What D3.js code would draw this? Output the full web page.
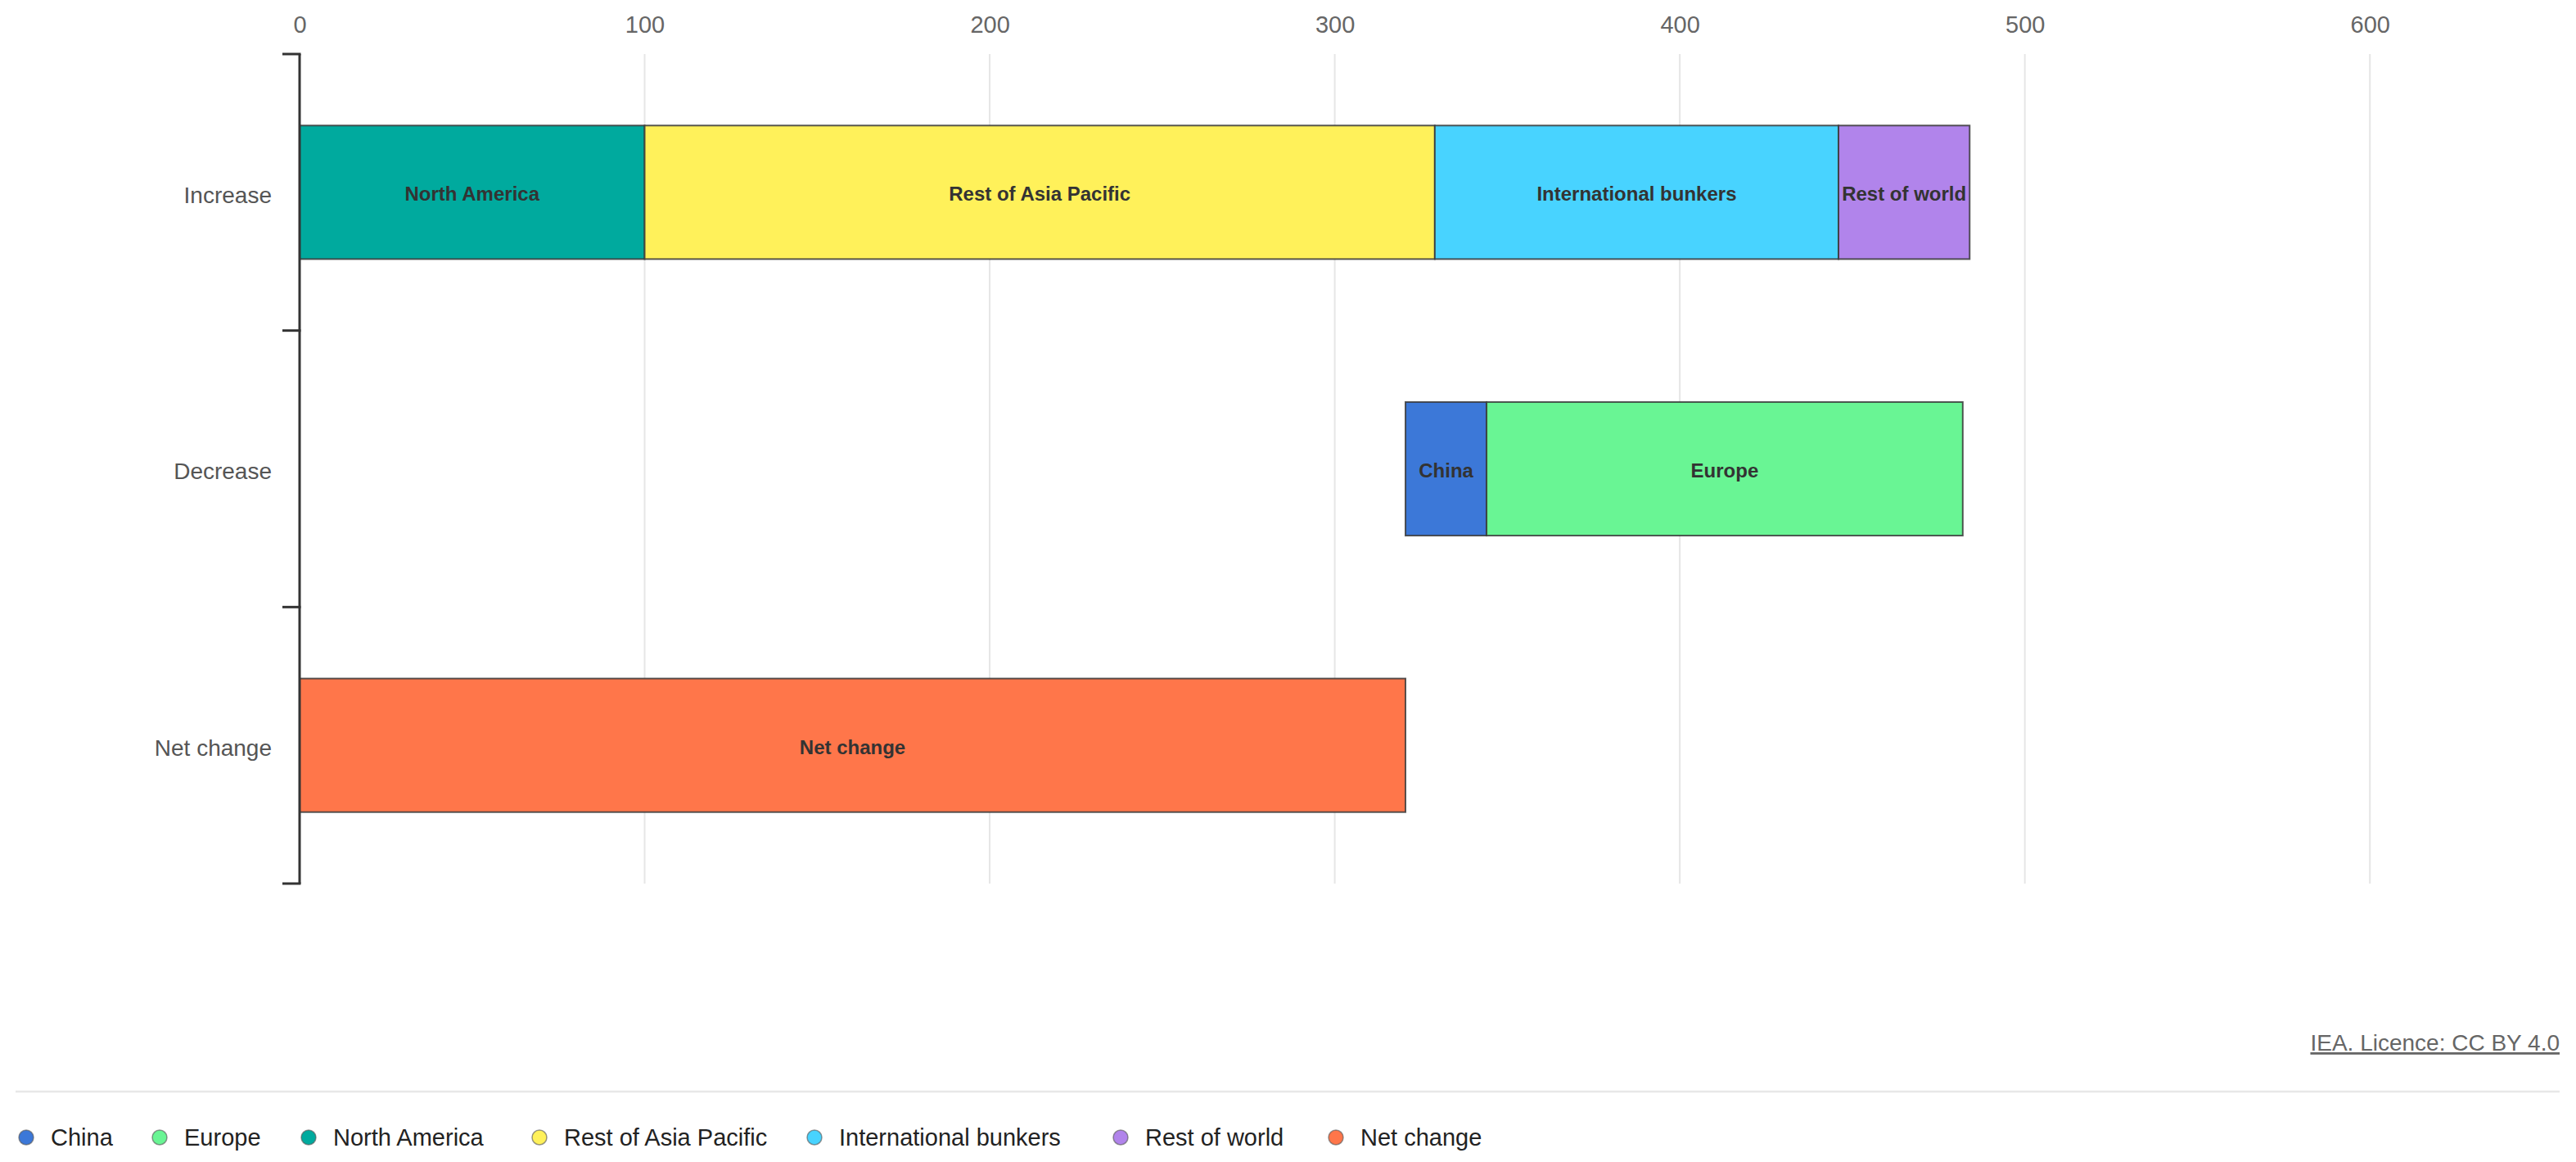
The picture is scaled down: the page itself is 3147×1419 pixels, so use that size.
<!DOCTYPE html>
<html>
<head>
<meta charset="utf-8">
<script src="https://cdn.jsdelivr.net/npm/d3@7"></script>
<style>
  html, body { margin: 0; padding: 0; background: #ffffff; }
  svg { display: block; }
</style>
</head>
<body>
<svg id="chart" width="3147" height="1419"></svg>
<script>
// ---- Data ----
const categories = ["Increase", "Decrease", "Net change"];
const increaseRegions = ["North America", "Rest of Asia Pacific", "International bunkers", "Rest of world"];
const increaseValues = [100, 229, 117, 38];
const decreaseRegions = ["China", "Europe"];
const decreaseValues = [23.5, 138];
const netLabels = ["Net change"];
const netValues = [320.5];
const xTicks = [0, 100, 200, 300, 400, 500, 600];
const legendSeries = ["China", "Europe", "North America", "Rest of Asia Pacific", "International bunkers", "Rest of world", "Net change"];
const seriesColors = ["#3c78d8", "#69f594", "#00aa9e", "#fff15a", "#48d3ff", "#b184eb", "#ff764a"];

(function () {
// ---- Layout ----
const mLeft = 366, mRight = 3106, mTop = 66, mBottom = 1079;
const legendX = [32, 195, 377, 659, 995, 1369, 1632]; // legend marker positions (layout)
const svg = d3.select("#chart");
const FONT = "'Liberation Sans', Arial, sans-serif";

const color = d3.scaleOrdinal().domain(legendSeries).range(seriesColors);
const x = d3.scaleLinear().domain([0, 650]).range([mLeft, mRight]);
const y = d3.scaleBand().domain(categories).range([mTop, mBottom]).paddingInner(0.517).paddingOuter(0.2585);

function stack(names, vals, start) {
  let acc = start;
  return names.map((n, i) => {
    const s = { name: n, x0: acc, x1: acc + vals[i] };
    acc += vals[i];
    return s;
  });
}
const rows = [
  { cat: "Increase", segs: stack(increaseRegions, increaseValues, 0) },
  { cat: "Decrease", segs: stack(decreaseRegions, decreaseValues, netValues[0]) },
  { cat: "Net change", segs: stack(netLabels, netValues, 0) }
];

// gridlines
svg.append("g").selectAll("line").data(xTicks.filter(d => d !== 0)).join("line")
  .attr("x1", d => x(d)).attr("x2", d => x(d))
  .attr("y1", mTop).attr("y2", mBottom)
  .attr("stroke", "#e6e6e6").attr("stroke-width", 2);

// top axis labels
const xAxis = d3.axisTop(x).tickValues(xTicks).tickSize(0).tickPadding(0);
const gx = svg.append("g").attr("transform", `translate(0,${mTop - 26})`).call(xAxis);
gx.select(".domain").remove();
gx.selectAll("text").attr("font-family", FONT).attr("font-size", 29).attr("fill", "#666").attr("dy", 0);

// bars
const barG = svg.append("g");
rows.forEach(r => {
  const g = barG.append("g");
  g.selectAll("rect").data(r.segs).join("rect")
    .attr("x", d => x(d.x0))
    .attr("y", y(r.cat))
    .attr("width", d => x(d.x1) - x(d.x0))
    .attr("height", y.bandwidth())
    .attr("fill", d => color(d.name))
    .attr("stroke", "#3a3a3a").attr("stroke-opacity", 0.85).attr("stroke-width", 2);
  g.selectAll("text").data(r.segs).join("text")
    .attr("x", d => (x(d.x0) + x(d.x1)) / 2)
    .attr("y", y(r.cat) + y.bandwidth() / 2 + 2)
    .attr("dy", "0.35em")
    .attr("text-anchor", "middle")
    .attr("font-family", FONT).attr("font-weight", "bold").attr("font-size", 24)
    .attr("fill", "#333")
    .text(d => d.name);
});

// left axis (category)
const axG = svg.append("g");
axG.append("line").attr("x1", mLeft).attr("x2", mLeft).attr("y1", mTop).attr("y2", mBottom)
  .attr("stroke", "#333").attr("stroke-width", 3);
const bounds = categories.map(c => y(c) - y.step() * y.paddingInner() / 2).concat([mBottom]);
axG.selectAll("line.tk").data(bounds).join("line").attr("class", "tk")
  .attr("x1", mLeft - 21).attr("x2", mLeft + 1.5).attr("y1", d => d).attr("y2", d => d)
  .attr("stroke", "#333").attr("stroke-width", 3);
axG.selectAll("text").data(categories).join("text")
  .attr("x", mLeft - 34).attr("y", d => y(d) + y.bandwidth() / 2 + 3)
  .attr("dy", "0.35em").attr("text-anchor", "end")
  .attr("font-family", FONT).attr("font-size", 28).attr("fill", "#555")
  .text(d => d);

// licence
svg.append("text").attr("x", 3127).attr("y", 1283).attr("text-anchor", "end")
  .attr("font-family", FONT).attr("font-size", 28).attr("fill", "#666")
  .attr("text-decoration", "underline")
  .text("IEA. Licence: CC BY 4.0");

// separator
svg.append("line").attr("x1", 19).attr("x2", 3127).attr("y1", 1333).attr("y2", 1333)
  .attr("stroke", "#e8e8e8").attr("stroke-width", 2.5);

// legend
const lg = svg.append("g");
legendSeries.forEach((s, i) => {
  const lx = legendX[i];
  const it = lg.append("g");
  it.append("circle").attr("cx", lx).attr("cy", 1389).attr("r", 9)
    .attr("fill", color(s)).attr("stroke", "#555").attr("stroke-opacity", 0.6).attr("stroke-width", 1.5);
  it.append("text").attr("x", lx + 30).attr("y", 1389).attr("dy", "0.35em")
    .attr("font-family", FONT).attr("font-size", 29).attr("fill", "#222").text(s);
});
})();
</script>
</body>
</html>
